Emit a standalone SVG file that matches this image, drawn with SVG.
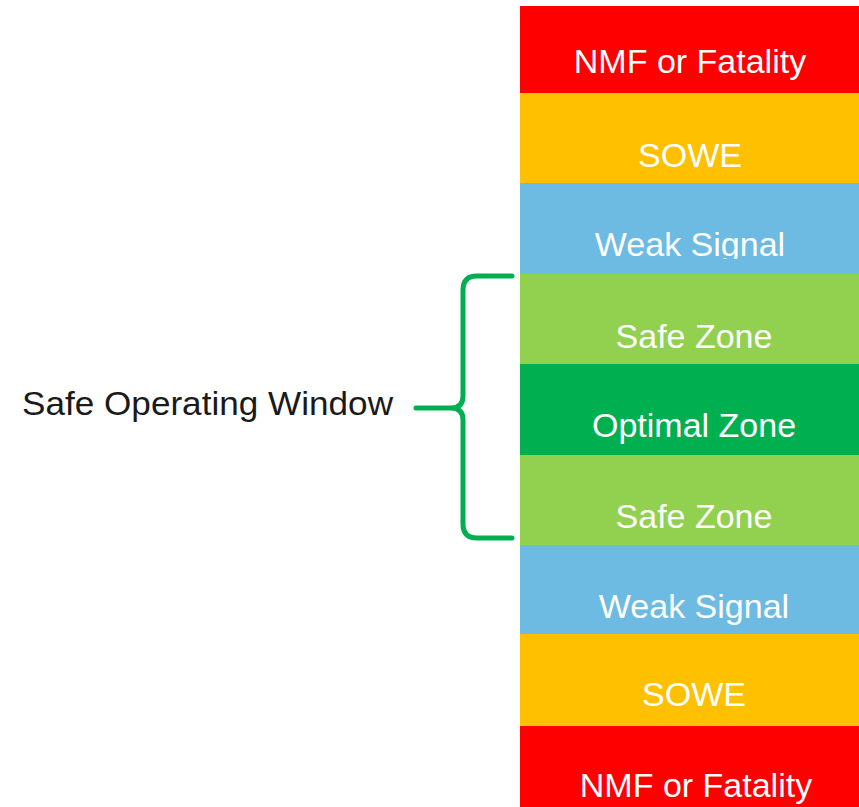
<svg xmlns="http://www.w3.org/2000/svg" width="859" height="807" viewBox="0 0 859 807">
<style>
.band text{font-family:"Liberation Sans",Arial,sans-serif;font-size:34px;fill:#FFFFFF;text-anchor:middle}
.lbl{font-family:"Liberation Sans",Arial,sans-serif;font-size:34px;fill:#1a1a1a}
.red{fill:#FF0000}.orange{fill:#FFC000}.blue{fill:#6DBBE2}.lg{fill:#92D050}.dg{fill:#00B050}
</style>
<defs>
<clipPath id="clipWeak1"><rect x="520" y="183" width="339" height="76"/></clipPath>
</defs>
<rect width="859" height="807" fill="#FFFFFF"/>
<g id="band-nmf-top" class="band"><rect class="red" x="520" y="6" width="339" height="87"/><text x="690" y="73">NMF or Fatality</text></g>
<g id="band-sowe-top" class="band"><rect class="orange" x="520" y="93" width="339" height="90"/><text x="690" y="167">SOWE</text></g>
<g id="band-weak-top" class="band"><rect class="blue" x="520" y="183" width="339" height="91"/><text x="690" y="256" clip-path="url(#clipWeak1)">Weak Signal</text></g>
<g id="band-safe-top" class="band"><rect class="lg" x="520" y="274" width="339" height="90"/><text x="694" y="348">Safe Zone</text></g>
<g id="band-optimal" class="band"><rect class="dg" x="520" y="364" width="339" height="91"/><text x="694" y="437">Optimal Zone</text></g>
<g id="band-safe-bottom" class="band"><rect class="lg" x="520" y="455" width="339" height="90"/><text x="694" y="528">Safe Zone</text></g>
<g id="band-weak-bottom" class="band"><rect class="blue" x="520" y="545" width="339" height="89"/><text x="694" y="618">Weak Signal</text></g>
<g id="band-sowe-bottom" class="band"><rect class="orange" x="520" y="634" width="339" height="92"/><text x="694" y="706">SOWE</text></g>
<g id="band-nmf-bottom" class="band"><rect class="red" x="520" y="726" width="339" height="81"/><text x="696" y="797">NMF or Fatality</text></g>
<g id="label-sow"><text class="lbl" x="22" y="415" textLength="371" lengthAdjust="spacingAndGlyphs">Safe Operating Window</text></g>
<g id="connectors">
<path d="M512,276 H477 Q463,276 463,290 V396 Q463,408 451,408 H416 M451,408 Q463,408 463,420 V524 Q463,538 477,538 H512" fill="none" stroke="#00B050" stroke-width="5" stroke-linecap="round" stroke-linejoin="round"/>
</g>
</svg>
